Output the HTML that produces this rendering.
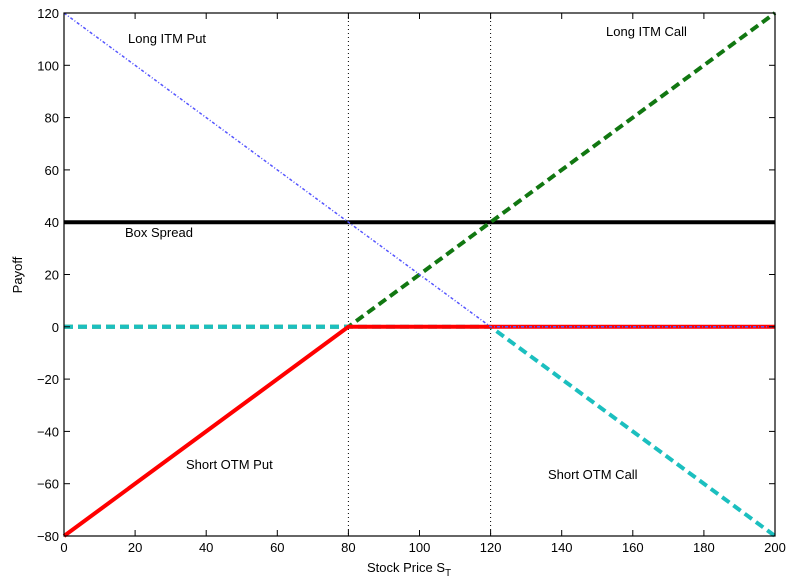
<!DOCTYPE html>
<html><head><meta charset="utf-8"><style>body{margin:0;background:#fff}svg{display:block;font-family:"Liberation Sans",Arial,sans-serif}</style></head>
<body>
<svg id="chart" width="797" height="585" viewBox="0 0 797 585" xmlns="http://www.w3.org/2000/svg"></svg>
<script>
const xTicks=[0,20,40,60,80,100,120,140,160,180,200];
const yTicks=[-80,-60,-40,-20,0,20,40,60,80,100,120];
const prices=[0,80,120,200];
const longItmPut=[120,40,0,0];
const longItmCall=[0,0,40,120];
const shortOtmPut=[-80,0,0,0];
const shortOtmCall=[0,0,0,-80];
const boxSpread=[40,40,40,40];
const strikes=[80,120];
const L=64,R=775,T=13,B=536;
const X=v=>L+(v-0)/200*(R-L);
const Y=v=>B-(v+80)/200*(B-T);
const svg=document.getElementById('chart');
const NS='http://www.w3.org/2000/svg';
function mk(t,a,p){const e=document.createElementNS(NS,t);for(const k in a)e.setAttribute(k,a[k]);(p||svg).appendChild(e);return e;}
mk('rect',{x:L,y:T,width:R-L,height:B-T,fill:'#fff',stroke:'none'});
strikes.forEach(s=>{const l=mk('line',{x1:X(s),x2:X(s),y1:T,y2:B,stroke:'#000','stroke-width':1,'stroke-dasharray':'1,3'});

});
function series(vals,color,w,dash,name){
 const pts=prices.map((p,i)=>X(p)+','+Y(vals[i])).join(' ');
 const e=mk('polyline',{points:pts,fill:'none',stroke:color,'stroke-width':w,'stroke-dasharray':dash});
 
 
}
series(boxSpread,'#000',4,'none','box-spread-line');
series(longItmCall,'#117711',4,'9,5','long-itm-call-line');
series(shortOtmCall,'#1bbfbf',4,'9,5','short-otm-call-line');
series(shortOtmPut,'#f00',4,'none','short-otm-put-line');
series(longItmPut,'#5555ff',1.5,'3,2,1,2','long-itm-put-line');
mk('rect',{x:L,y:T,width:R-L,height:B-T,fill:'none',stroke:'#000','stroke-width':1.2});
xTicks.forEach(v=>{mk('line',{x1:X(v),x2:X(v),y1:B,y2:B-6,stroke:'#000'});mk('line',{x1:X(v),x2:X(v),y1:T,y2:T+6,stroke:'#000'});
 const t=mk('text',{x:X(v),y:B+16,'text-anchor':'middle','font-size':13});t.textContent=v;
 
 });
yTicks.forEach(v=>{mk('line',{x1:L,x2:L+6,y1:Y(v),y2:Y(v),stroke:'#000'});mk('line',{x1:R,x2:R-6,y1:Y(v),y2:Y(v),stroke:'#000'});
 const t=mk('text',{x:L-5,y:Y(v)+5,'text-anchor':'end','font-size':13});t.textContent=v<0?'\u2212'+(-v):v;
 
 });
function lab(x,y,s,n,fs,anchor,rot){const t=mk('text',{x:x,y:y,'font-size':fs||13,'text-anchor':anchor||'start'});if(rot)t.setAttribute('transform',rot);t.textContent=s;
 
 return t;}
lab(128,43,'Long ITM Put','label-long-itm-put');
lab(606,36,'Long ITM Call','label-long-itm-call');
lab(125,237,'Box Spread','label-box-spread');
lab(186,469,'Short OTM Put','label-short-otm-put');
lab(548,479,'Short OTM Call','label-short-otm-call');
const xt=lab(367,572,'Stock Price S','x-axis-title');
const sub=document.createElementNS(NS,'tspan');sub.setAttribute('font-size',10);sub.setAttribute('dy',4);sub.textContent='T';xt.appendChild(sub);
lab(22,275,'Payoff','y-axis-title',13,'middle','rotate(-90 22 275)');
</script>
</body></html>
